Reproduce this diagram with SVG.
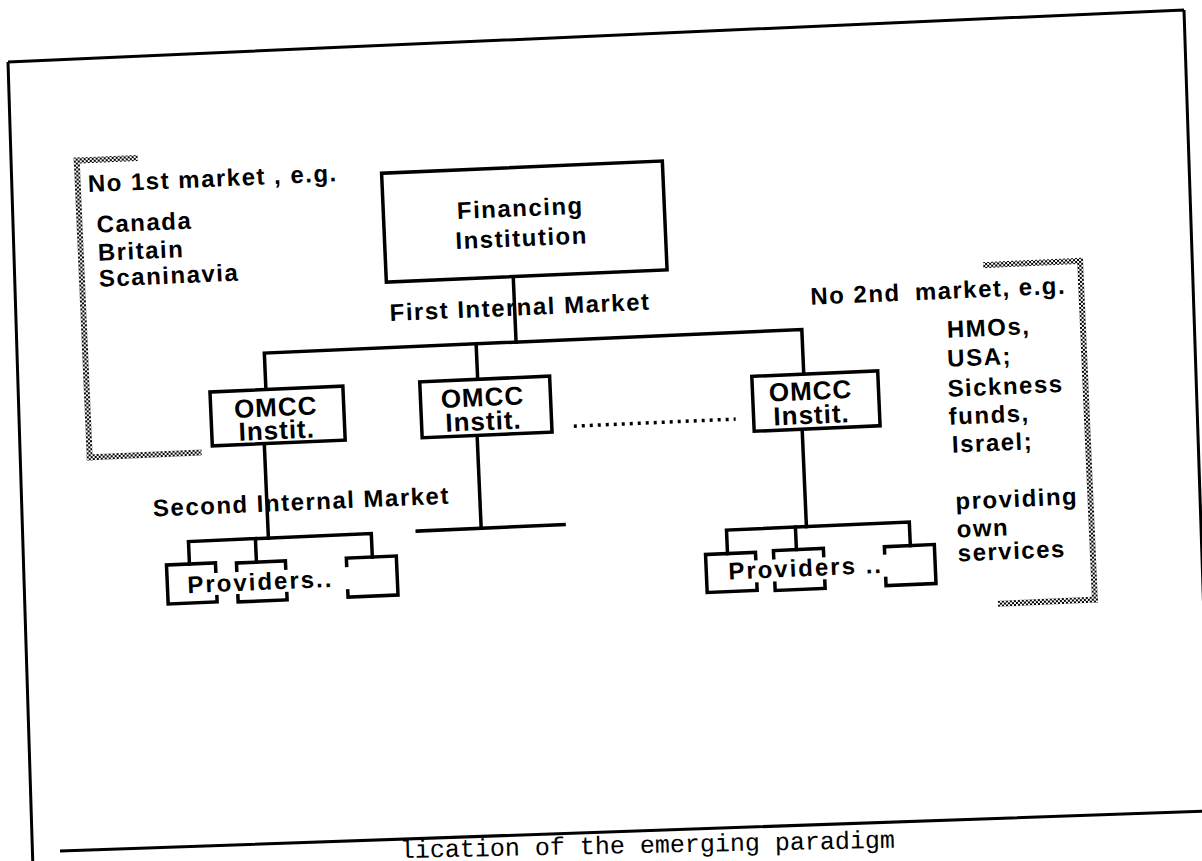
<svg xmlns="http://www.w3.org/2000/svg" width="1202" height="861" viewBox="0 0 1202 861">
<defs>
<style>
.ln{stroke:#000;stroke-width:3.5;fill:none;stroke-linecap:square}
.fr{stroke:#000;stroke-width:3;fill:none}
.dot{stroke:#000;stroke-width:3.5;fill:none;stroke-dasharray:3 5}
.box{fill:#fff;stroke:#000;stroke-width:3.5}
.pb{fill:none;stroke:#000;stroke-width:3.5}
.bg{fill:#fff}
.t{font-family:"Liberation Sans",Arial,sans-serif;font-weight:bold;font-size:24px;letter-spacing:1.5px;fill:#000}
.bt{font-family:"Liberation Sans",Arial,sans-serif;font-weight:bold;font-size:26px;letter-spacing:1px;fill:#000;text-anchor:middle}
.pv{letter-spacing:2px}
.cap{font-family:"Liberation Mono","Courier New",monospace;font-size:25px;fill:#000}
.hatch{fill:url(#hatch)}
</style>
<pattern id="hatch" width="4" height="4" patternUnits="userSpaceOnUse">
<rect width="4" height="4" fill="#fff"/>
<rect width="2" height="2" fill="#000"/>
<rect x="2" y="2" width="2" height="2" fill="#000"/>
</pattern>
</defs>
<rect width="1202" height="861" fill="#fff"/>
<g id="frame">
<path class="fr" d="M8,62 L1184,10 M8,62 L33,870 M1184,10 L1212,861 M60,851 L1212,811"/>
<text class="cap" x="400" y="858" transform="rotate(-1.2 400 858)">lication of the emerging paradigm</text>
</g>
<g transform="rotate(-2.5 600 430)">
<g id="connectors">
<path class="ln" d="M520,273 V338.5"/>
<path class="ln" d="M268,375 V338.5 H806 V383"/>
<path class="ln" d="M480,338.5 V374"/>
<path class="ln" d="M264,429 V523.5"/>
<path class="ln" d="M184,546 V523.5 H367 V547"/>
<path class="ln" d="M251,523.5 V547"/>
<path class="ln" d="M477,430 V523"/>
<path class="ln" d="M413,523 H560"/>
<path class="ln" d="M802,438 V535.5"/>
<path class="ln" d="M722,559 V535.5 H905 V559"/>
<path class="ln" d="M791,535.5 V558"/>
<path class="dot" d="M574,425 H736"/>
</g>
<g id="no-first-market">
<rect class="hatch" x="86" y="135" width="64" height="6"/>
<rect class="hatch" x="86" y="135" width="6" height="303"/>
<rect class="hatch" x="86" y="432" width="115" height="6"/>
<text class="t" x="99" y="170">No 1st market , e.g.</text>
<text class="t" x="106" y="211">Canada</text>
<text class="t" x="106" y="239">Britain</text>
<text class="t" x="106" y="265">Scaninavia</text>
</g>
<g id="financing">
<rect class="box" x="393" y="164" width="281" height="109"/>
<text class="bt" x="530" y="213" style="font-size:24px;letter-spacing:1.5px">Financing</text>
<text class="bt" x="530" y="243" style="font-size:24px;letter-spacing:1.5px">Institution</text>
</g>
<g id="label-first-market">
<text class="t" x="395" y="312">First Internal Market</text>
</g>
<g id="omcc1">
<rect class="box" x="212" y="375" width="133" height="54"/>
<text class="bt" x="277" y="402">OMCC</text>
<text class="bt" x="277" y="425">Instit.</text>
</g>
<g id="omcc2">
<rect class="box" x="422" y="374" width="130" height="56"/>
<text class="bt" x="484" y="401">OMCC</text>
<text class="bt" x="484" y="425">Instit.</text>
</g>
<g id="omcc3">
<rect class="box" x="754" y="383" width="126" height="55"/>
<text class="bt" x="812" y="409">OMCC</text>
<text class="bt" x="812" y="433">Instit.</text>
</g>
<g id="label-second-market">
<text class="t" x="150" y="497">Second Internal Market</text>
</g>
<g id="providers-left">
<rect class="pb" x="161" y="546" width="49" height="39"/>
<rect class="pb" x="231" y="547" width="49" height="39"/>
<rect class="pb" x="341" y="547" width="50" height="39"/>
<rect class="bg" x="180" y="556" width="165" height="22"/>
<text class="t pv" x="181" y="575">Providers..</text>
</g>
<g id="providers-right">
<rect class="pb" x="700" y="559" width="50" height="38"/>
<rect class="pb" x="768" y="558" width="50" height="40"/>
<rect class="pb" x="879" y="559" width="50" height="39"/>
<rect class="bg" x="718" y="567" width="165" height="22"/>
<text class="t pv" x="722" y="585">Providers ..</text>
</g>
<g id="no-second-market">
<rect class="hatch" x="990" y="279" width="100" height="6"/>
<rect class="hatch" x="1084" y="279" width="6" height="345"/>
<rect class="hatch" x="990" y="618" width="100" height="6"/>
<text class="t" x="816" y="314">No 2nd <tspan dx="6">market, e.g.</tspan></text>
<text class="t" x="951" y="353">HMOs,</text>
<text class="t" x="950" y="382">USA;</text>
<text class="t" x="949" y="412">Sickness</text>
<text class="t" x="949" y="440">funds,</text>
<text class="t" x="951" y="468">Israel;</text>
<text class="t" x="952" y="525">providing</text>
<text class="t" x="952" y="553">own</text>
<text class="t" x="952" y="577">services</text>
</g>
</g>
</svg>
